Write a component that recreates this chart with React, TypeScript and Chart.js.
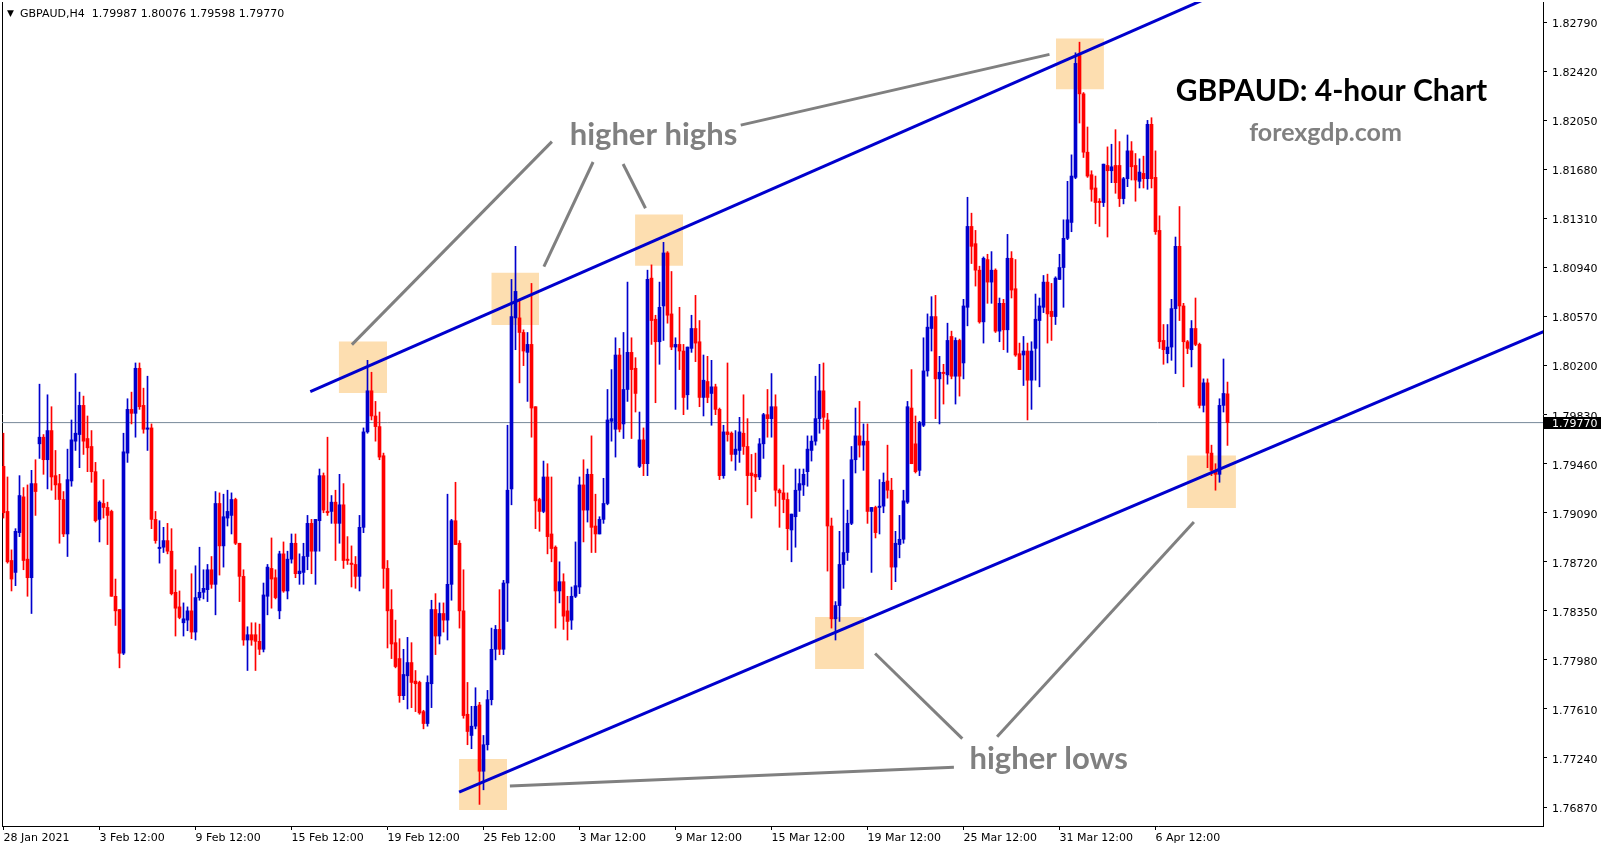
import React, { useEffect, useRef } from 'react';
import { Chart, registerables } from 'chart.js';

Chart.register(...registerables);

// ---------- data ----------
const symbol = 'GBPAUD';
const timeframe = 'H4';

// H4 candles: [open, high, low, close]
const candles: number[][] = [
  [1.7944,1.7969,1.7905,1.7909],[1.7910,1.7936,1.7871,1.7872],[1.7873,1.7881,1.7850,1.7859],[1.7864,1.7897,1.7854,1.7895],
  [1.7894,1.7937,1.7891,1.7922],[1.7921,1.7928,1.7866,1.7873],[1.7874,1.7930,1.7846,1.7860],[1.7860,1.7941,1.7833,1.7931],
  [1.7931,1.7949,1.7907,1.7925],[1.7961,1.8006,1.7950,1.7966],[1.7966,1.7968,1.7938,1.7949],[1.7949,1.7998,1.7927,1.7971],
  [1.7971,1.7989,1.7926,1.7936],[1.7937,1.7956,1.7919,1.7930],[1.7931,1.7938,1.7886,1.7919],[1.7919,1.7925,1.7891,1.7893],
  [1.7893,1.7957,1.7876,1.7934],[1.7933,1.7979,1.7929,1.7964],[1.7963,1.8014,1.7956,1.7969],[1.7968,1.8000,1.7943,1.7990],
  [1.7990,1.7997,1.7953,1.7963],[1.7965,1.7982,1.7940,1.7958],[1.7959,1.7971,1.7932,1.7940],[1.7940,1.7947,1.7902,1.7903],
  [1.7904,1.7918,1.7887,1.7917],[1.7916,1.7934,1.7905,1.7913],[1.7913,1.7917,1.7885,1.7907],[1.7910,1.7911,1.7846,1.7846],
  [1.7846,1.7859,1.7824,1.7835],[1.7836,1.7836,1.7792,1.7803],[1.7803,1.7969,1.7802,1.7955],[1.7954,1.7995,1.7947,1.7987],
  [1.7987,1.8000,1.7976,1.7984],[1.7984,1.8022,1.7966,1.8018],[1.8018,1.8022,1.7987,1.7989],[1.7990,1.8003,1.7969,1.7972],
  [1.7972,1.8012,1.7956,1.7973],[1.7973,1.7976,1.7897,1.7904],[1.7904,1.7910,1.7886,1.7888],[1.7882,1.7903,1.7871,1.7883],
  [1.7883,1.7898,1.7879,1.7888],[1.7888,1.7901,1.7878,1.7880],[1.7880,1.7897,1.7847,1.7848],[1.7849,1.7866,1.7816,1.7837],
  [1.7838,1.7850,1.7829,1.7830],[1.7826,1.7841,1.7816,1.7829],[1.7828,1.7838,1.7820,1.7835],[1.7835,1.7863,1.7814,1.7819],
  [1.7819,1.7869,1.7813,1.7845],[1.7845,1.7883,1.7843,1.7849],[1.7849,1.7866,1.7844,1.7852],[1.7851,1.7870,1.7842,1.7866],
  [1.7866,1.7876,1.7852,1.7855],[1.7855,1.7925,1.7832,1.7916],[1.7916,1.7924,1.7862,1.7884],[1.7884,1.7923,1.7868,1.7906],
  [1.7905,1.7926,1.7899,1.7910],[1.7907,1.7924,1.7893,1.7919],[1.7919,1.7920,1.7885,1.7886],[1.7886,1.7886,1.7842,1.7861],
  [1.7861,1.7866,1.7809,1.7813],[1.7813,1.7823,1.7790,1.7817],[1.7817,1.7826,1.7809,1.7813],[1.7817,1.7826,1.7790,1.7812],
  [1.7812,1.7825,1.7802,1.7806],[1.7806,1.7856,1.7804,1.7847],[1.7846,1.7870,1.7832,1.7868],[1.7867,1.7890,1.7837,1.7859],
  [1.7860,1.7866,1.7844,1.7845],[1.7835,1.7880,1.7829,1.7878],[1.7878,1.7887,1.7849,1.7850],[1.7850,1.7880,1.7844,1.7874],
  [1.7874,1.7893,1.7871,1.7886],[1.7886,1.7893,1.7860,1.7863],[1.7863,1.7878,1.7855,1.7865],[1.7864,1.7886,1.7855,1.7876],
  [1.7876,1.7907,1.7866,1.7901],[1.7901,1.7904,1.7863,1.7880],[1.7880,1.7904,1.7855,1.7904],[1.7903,1.7942,1.7880,1.7937],
  [1.7937,1.7939,1.7909,1.7911],[1.7910,1.7966,1.7907,1.7909],[1.7910,1.7922,1.7901,1.7917],[1.7917,1.7926,1.7873,1.7901],
  [1.7901,1.7938,1.7886,1.7915],[1.7915,1.7931,1.7867,1.7873],[1.7874,1.7891,1.7870,1.7873],[1.7871,1.7884,1.7853,1.7870],
  [1.7870,1.7876,1.7852,1.7861],[1.7861,1.7907,1.7850,1.7898],[1.7898,1.7973,1.7894,1.7970],[1.7970,1.8024,1.7969,1.8001],
  [1.8001,1.8015,1.7979,1.7982],[1.7982,1.7993,1.7963,1.7974],[1.7974,1.7985,1.7949,1.7951],[1.7952,1.7954,1.7852,1.7867],
  [1.7867,1.7873,1.7807,1.7835],[1.7836,1.7851,1.7799,1.7810],[1.7811,1.7828,1.7792,1.7793],[1.7799,1.7814,1.7766,1.7771],
  [1.7771,1.7806,1.7768,1.7787],[1.7786,1.7815,1.7761,1.7796],[1.7796,1.7811,1.7762,1.7781],[1.7782,1.7790,1.7759,1.7780],
  [1.7781,1.7782,1.7757,1.7758],[1.7759,1.7760,1.7746,1.7750],[1.7750,1.7786,1.7748,1.7781],[1.7780,1.7843,1.7762,1.7836],
  [1.7836,1.7848,1.7802,1.7816],[1.7816,1.7841,1.7810,1.7833],[1.7833,1.7841,1.7819,1.7828],[1.7828,1.7923,1.7813,1.7855],
  [1.7855,1.7904,1.7843,1.7903],[1.7903,1.7932,1.7885,1.7885],[1.7886,1.7888,1.7822,1.7835],[1.7835,1.7866,1.7754,1.7756],
  [1.7757,1.7781,1.7734,1.7744],[1.7741,1.7763,1.7731,1.7748],[1.7748,1.7777,1.7746,1.7763],[1.7764,1.7766,1.7689,1.7714],
  [1.7714,1.7741,1.7700,1.7734],[1.7734,1.7775,1.7730,1.7768],[1.7768,1.7822,1.7764,1.7806],[1.7806,1.7824,1.7798,1.7821],
  [1.7821,1.7851,1.7802,1.7806],[1.7806,1.7858,1.7802,1.7856],[1.7856,1.7975,1.7827,1.7926],[1.7927,1.8085,1.7915,1.8057],
  [1.8056,1.8110,1.8032,1.8076],[1.8056,1.8070,1.8007,1.8045],[1.8045,1.8047,1.8020,1.8031],[1.8030,1.8045,1.7993,1.8036],
  [1.8036,1.8082,1.7966,1.7988],[1.7989,1.7989,1.7897,1.7918],[1.7919,1.7920,1.7895,1.7910],[1.7910,1.7948,1.7909,1.7936],
  [1.7936,1.7946,1.7878,1.7891],[1.7893,1.7936,1.7872,1.7882],[1.7883,1.7884,1.7822,1.7850],[1.7850,1.7872,1.7841,1.7857],
  [1.7857,1.7863,1.7821,1.7831],[1.7835,1.7846,1.7813,1.7827],[1.7828,1.7853,1.7821,1.7846],[1.7846,1.7887,1.7845,1.7854],
  [1.7853,1.7936,1.7848,1.7930],[1.7930,1.7949,1.7887,1.7911],[1.7911,1.7942,1.7902,1.7938],[1.7938,1.7967,1.7879,1.7898],
  [1.7899,1.7923,1.7879,1.7893],[1.7893,1.7906,1.7893,1.7904],[1.7904,1.7935,1.7901,1.7916],[1.7916,1.8002,1.7915,1.7979],
  [1.7978,1.8017,1.7963,1.7980],[1.7972,1.8041,1.7951,1.8028],[1.8028,1.8033,1.7970,1.7972],[1.7976,1.8045,1.7965,1.8002],
  [1.8002,1.8083,1.7993,1.8030],[1.8030,1.8041,1.7965,1.8017],[1.8018,1.8026,1.7985,1.7999],[1.7944,1.7985,1.7943,1.7964],
  [1.7964,1.7973,1.7937,1.7946],[1.7946,1.8092,1.7937,1.8085],[1.8086,1.8096,1.8036,1.8054],[1.8055,1.8058,1.7992,1.8038],
  [1.8038,1.8083,1.8021,1.8064],[1.8065,1.8113,1.8039,1.8105],[1.8105,1.8106,1.8052,1.8058],[1.8059,1.8091,1.8032,1.8034],
  [1.8034,1.8041,1.7987,1.8036],[1.8036,1.8064,1.8017,1.8031],[1.8031,1.8036,1.7983,1.7996],[1.7998,1.8034,1.7987,1.8034],
  [1.8033,1.8058,1.8030,1.8048],[1.8048,1.8073,1.8023,1.8037],[1.8038,1.8054,1.7989,1.7996],[1.7996,1.8028,1.7982,1.8009],
  [1.8008,1.8027,1.7992,1.7996],[1.7999,1.8024,1.7975,1.8004],[1.8004,1.8006,1.7983,1.7987],[1.7987,1.7988,1.7934,1.7937],
  [1.7937,1.7975,1.7935,1.7970],[1.7970,1.8022,1.7963,1.7968],[1.7969,1.7970,1.7948,1.7953],[1.7953,1.7971,1.7941,1.7957],
  [1.7956,1.7981,1.7947,1.7970],[1.7969,1.7998,1.7953,1.7959],[1.7959,1.7980,1.7915,1.7937],[1.7939,1.7953,1.7905,1.7937],
  [1.7938,1.7954,1.7925,1.7936],[1.7936,1.7965,1.7934,1.7961],[1.7961,1.7984,1.7950,1.7983],[1.7983,1.8002,1.7966,1.7980],
  [1.7980,1.8014,1.7966,1.7989],[1.7989,1.7998,1.7914,1.7926],[1.7926,1.7927,1.7898,1.7924],[1.7924,1.7945,1.7909,1.7919],
  [1.7919,1.7924,1.7881,1.7897],[1.7896,1.7908,1.7872,1.7908],[1.7906,1.7942,1.7883,1.7926],[1.7926,1.7942,1.7910,1.7931],
  [1.7930,1.7942,1.7922,1.7938],[1.7940,1.7967,1.7929,1.7957],[1.7956,1.7967,1.7948,1.7963],[1.7963,1.8012,1.7960,1.7980],
  [1.7980,1.8021,1.7969,1.8001],[1.8001,1.8022,1.7972,1.7981],[1.7979,1.7984,1.7865,1.7899],[1.7899,1.7905,1.7822,1.7829],
  [1.7829,1.7842,1.7813,1.7839],[1.7839,1.7895,1.7827,1.7870],[1.7870,1.7934,1.7852,1.7879],[1.7879,1.7911,1.7873,1.7901],
  [1.7901,1.7959,1.7900,1.7949],[1.7949,1.7988,1.7939,1.7967],[1.7967,1.7993,1.7951,1.7960],[1.7960,1.7976,1.7941,1.7963],
  [1.7963,1.7976,1.7901,1.7910],[1.7910,1.7913,1.7864,1.7913],[1.7913,1.7914,1.7890,1.7894],[1.7913,1.7934,1.7893,1.7914],
  [1.7914,1.7939,1.7909,1.7932],[1.7933,1.7960,1.7920,1.7926],[1.7926,1.7935,1.7851,1.7868],[1.7868,1.7895,1.7857,1.7886],
  [1.7885,1.7907,1.7875,1.7889],[1.7889,1.7926,1.7886,1.7918],[1.7917,1.7993,1.7916,1.7989],[1.7988,1.8017,1.7946,1.7946],
  [1.7961,1.7982,1.7939,1.7940],[1.7941,1.7978,1.7937,1.7977],[1.7975,1.8041,1.7974,1.8016],[1.8016,1.8059,1.8012,1.8049],
  [1.8048,1.8072,1.8031,1.8057],[1.8057,1.8073,1.7980,1.8010],[1.8010,1.8027,1.7976,1.8015],[1.8015,1.8021,1.7991,1.8014],
  [1.8013,1.8052,1.8006,1.8039],[1.8042,1.8046,1.8010,1.8012],[1.8012,1.8041,1.7991,1.8039],[1.8039,1.8040,1.7997,1.8012],
  [1.8022,1.8070,1.8010,1.8065],[1.8064,1.8147,1.8050,1.8125],[1.8125,1.8135,1.8097,1.8110],[1.8112,1.8122,1.8080,1.8092],
  [1.8092,1.8095,1.8052,1.8053],[1.8053,1.8102,1.8037,1.8101],[1.8100,1.8104,1.8067,1.8083],[1.8083,1.8106,1.8067,1.8092],
  [1.8092,1.8093,1.8045,1.8046],[1.8046,1.8071,1.8038,1.8067],[1.8067,1.8070,1.8032,1.8047],[1.8047,1.8119,1.8030,1.8101],
  [1.8101,1.8106,1.8071,1.8077],[1.8078,1.8100,1.8027,1.8028],[1.8029,1.8037,1.8017,1.8017],[1.8028,1.8042,1.8005,1.8031],
  [1.8031,1.8037,1.7979,1.8009],[1.8009,1.8038,1.7987,1.8031],[1.8033,1.8074,1.8009,1.8055],[1.8054,1.8071,1.8004,1.8065],
  [1.8064,1.8088,1.8060,1.8083],[1.8083,1.8089,1.8037,1.8059],[1.8061,1.8082,1.8039,1.8057],[1.8057,1.8087,1.8051,1.8086],
  [1.8085,1.8104,1.8085,1.8094],[1.8094,1.8130,1.8064,1.8116],[1.8116,1.8159,1.8115,1.8130],[1.8128,1.8179,1.8121,1.8163],
  [1.8162,1.8256,1.8161,1.8248],[1.8254,1.8264,1.8203,1.8225],[1.8225,1.8226,1.8177,1.8181],[1.8181,1.8200,1.8162,1.8163],
  [1.8164,1.8167,1.8144,1.8153],[1.8154,1.8163,1.8127,1.8143],[1.8144,1.8146,1.8125,1.8143],[1.8143,1.8172,1.8140,1.8172],
  [1.8171,1.8185,1.8117,1.8167],[1.8167,1.8187,1.8158,1.8170],[1.8171,1.8198,1.8150,1.8158],[1.8171,1.8189,1.8140,1.8146],
  [1.8146,1.8162,1.8142,1.8161],[1.8161,1.8194,1.8155,1.8182],[1.8182,1.8189,1.8160,1.8170],[1.8171,1.8180,1.8144,1.8160],
  [1.8159,1.8176,1.8154,1.8166],[1.8165,1.8178,1.8154,1.8161],[1.8161,1.8205,1.8153,1.8202],[1.8202,1.8207,1.8154,1.8161],
  [1.8162,1.8182,1.8119,1.8121],[1.8122,1.8133,1.8033,1.8038],[1.8039,1.8051,1.8021,1.8032],[1.8029,1.8051,1.8022,1.8034],
  [1.8034,1.8070,1.8024,1.8063],[1.8063,1.8117,1.8014,1.8110],[1.8110,1.8140,1.8054,1.8065],[1.8065,1.8067,1.8004,1.8038],
  [1.8038,1.8039,1.8029,1.8033],[1.8032,1.8054,1.8019,1.8048],[1.8048,1.8071,1.8035,1.8036],[1.8036,1.8037,1.7988,1.7990],
  [1.7990,1.8010,1.7985,1.8007],[1.8007,1.8010,1.7943,1.7954],[1.7954,1.7960,1.7937,1.7941],[1.7941,1.7946,1.7926,1.7938],
  [1.7938,1.7995,1.7932,1.7990],[1.7990,1.8025,1.7985,1.7999],[1.79987,1.80076,1.79598,1.79770],
];

// time axis labels (every 24 bars)
const timeLabels = ['28 Jan 2021','3 Feb 12:00','9 Feb 12:00','15 Feb 12:00','19 Feb 12:00','25 Feb 12:00','3 Mar 12:00','9 Mar 12:00','15 Mar 12:00','19 Mar 12:00','25 Mar 12:00','31 Mar 12:00','6 Apr 12:00'];
const timeLabelBars = [0,24,48,72,96,120,144,168,192,216,240,264,288];

// price axis ticks
const priceTicks = [1.8279,1.8242,1.8205,1.8168,1.8131,1.8094,1.8057,1.8020,1.7983,1.7946,1.7909,1.7872,1.7835,1.7798,1.7761,1.7724,1.7687];

// trend lines: [barIndex, price] endpoints
const upperTrend = [[76.7, 1.80003],[300.0, 1.82960]];
const lowerTrend = [[113.9, 1.76982],[385.0, 1.80457]];

// highlighted zones: [barFrom, barTo, priceLow, priceHigh]
const zones = [
  [83.8, 95.9, 1.79994, 1.80381],
  [121.95, 133.9, 1.80507, 1.80901],
  [157.9, 169.9, 1.80954, 1.81340],
  [263.1, 275.1, 1.82284, 1.82668],
  [113.9, 125.9, 1.76848, 1.77233],
  [202.9, 215.1, 1.77912, 1.78304],
  [295.9, 308.1, 1.79126, 1.79522],
];

// pointer lines: [bar1, price1, bar2, price2]
const pointers = [
  [137.1, 1.81890, 87.1, 1.80358],
  [147.4, 1.81736, 135.1, 1.80946],
  [154.9, 1.81721, 160.5, 1.81387],
  [184.3, 1.82014, 261.5, 1.82548],
  [217.9, 1.78028, 239.7, 1.77386],
  [248.4, 1.77401, 297.6, 1.79021],
  [126.6, 1.77029, 237.6, 1.77170],
];

// text notes: [text, bar, price]
const notes: [string, number, number][] = [
  ['higher highs', 162.5, 1.81940],
  ['higher lows', 261.3, 1.77233],
];
const titleNote: [string, number, number] = ['GBPAUD: 4-hour Chart', 332.0, 1.82272];
const siteNote: [string, number, number] = ['forexgdp.com', 330.5, 1.81955];

// ---------- view constants ----------
const X_MIN = -0.375;
const X_MAX = 384.875;
const Y_MIN = 1.76727;
const Y_MAX = 1.82943;
const BULL = '#0000cd';
const BEAR = '#ff0000';
const AXIS_FONT = { family: 'DejaVu Sans', size: 11 };

export default function App() {
  const ref = useRef<HTMLCanvasElement>(null);

  useEffect(() => {
    document.body.style.margin = '0';
    const canvas = ref.current!;
    const last = candles[candles.length - 1];
    const colors = candles.map((c) => (c[3] >= c[0] ? BULL : BEAR));

    const datasets: any[] = [];

    zones.forEach((z, i) => {
      datasets.push({
        type: 'line',
        label: 'zone' + i,
        data: [{ x: z[0], y: z[3] }, { x: z[1], y: z[3] }],
        borderWidth: 0,
        pointRadius: 0,
        backgroundColor: '#fddeb0',
        fill: { value: z[2] },
        clip: 0,
        order: 20,
        yAxisID: 'y',
      });
    });

    datasets.push({
      type: 'line',
      label: 'price',
      data: [{ x: X_MIN, y: last[3] }, { x: X_MAX, y: last[3] }],
      borderColor: '#778899',
      borderWidth: 1,
      pointRadius: 0,
      fill: false,
      clip: 0,
      order: 15,
      yAxisID: 'y',
    });

    datasets.push({
      type: 'bar',
      label: 'wick',
      data: candles.map((c, i) => ({ x: i, y: [c[2], c[1]] })),
      backgroundColor: colors,
      barThickness: 1,
      grouped: false,
      minBarLength: 1,
      borderWidth: 0,
      order: 11,
      yAxisID: 'y',
    });
    datasets.push({
      type: 'bar',
      label: 'body',
      data: candles.map((c, i) => ({ x: i, y: [c[0], c[3]] })),
      backgroundColor: colors,
      barThickness: 3,
      grouped: false,
      minBarLength: 1,
      borderWidth: 0,
      order: 10,
      yAxisID: 'y',
    });

    [upperTrend, lowerTrend].forEach((t, i) => {
      datasets.push({
        type: 'line',
        label: 'trend' + i,
        data: t.map((p) => ({ x: p[0], y: p[1] })),
        borderColor: BULL,
        borderWidth: 3,
        pointRadius: 0,
        fill: false,
        clip: 0,
        order: 5,
        yAxisID: 'y',
      });
    });

    pointers.forEach((p, i) => {
      datasets.push({
        type: 'line',
        label: 'ptr' + i,
        data: [{ x: p[0], y: p[1] }, { x: p[2], y: p[3] }],
        borderColor: '#808080',
        borderWidth: 3,
        pointRadius: 0,
        fill: false,
        clip: 0,
        order: 4,
        yAxisID: 'y',
      });
    });

    const notesPlugin = {
      id: 'notes',
      afterDatasetsDraw(chart: any) {
        const { ctx, scales } = chart;
        const x = scales.x;
        const y = scales.y;
        ctx.save();
        ctx.textAlign = 'center';
        ctx.textBaseline = 'middle';
        ctx.fillStyle = '#808080';
        ctx.font = 'bold 31px Lato';
        notes.forEach((n) => ctx.fillText(n[0], x.getPixelForValue(n[1]), y.getPixelForValue(n[2])));
        ctx.fillStyle = '#000';
        ctx.font = 'bold 30px Lato';
        ctx.fillText(titleNote[0], x.getPixelForValue(titleNote[1]), y.getPixelForValue(titleNote[2]));
        ctx.fillStyle = '#808080';
        ctx.font = 'bold 25px Lato';
        ctx.fillText(siteNote[0], x.getPixelForValue(siteNote[1]), y.getPixelForValue(siteNote[2]));
        ctx.restore();
      },
      afterDraw(chart: any) {
        const { ctx, chartArea, scales } = chart;
        const y = scales.y;
        ctx.save();
        // header
        ctx.fillStyle = '#000';
        ctx.textBaseline = 'middle';
        ctx.textAlign = 'left';
        ctx.font = '9px "DejaVu Sans"';
        ctx.fillText('\u25BC', chartArea.left + 5, 14);
        ctx.font = '11px "DejaVu Sans"';
        const head = `${symbol},${timeframe}  ${last[0].toFixed(5)} ${last[1].toFixed(5)} ${last[2].toFixed(5)} ${last[3].toFixed(5)}`;
        ctx.fillText(head, chartArea.left + 18, 14);
        // current price tag
        const py = Math.round(y.getPixelForValue(last[3]));
        ctx.fillStyle = '#000';
        ctx.fillRect(chartArea.right + 1, py - 6, 57, 12);
        ctx.fillStyle = '#fff';
        ctx.font = '11px "DejaVu Sans"';
        ctx.fillText(last[3].toFixed(5), chartArea.right + 9, py + 1);
        ctx.restore();
      },
    };

    const chart = new Chart(canvas, {
      type: 'bar',
      data: { datasets },
      plugins: [notesPlugin],
      options: {
        animation: false,
        responsive: false,
        events: [],
        layout: { autoPadding: false, padding: { left: 0, right: 0, top: 2, bottom: 0 } },
        plugins: { legend: { display: false }, tooltip: { enabled: false } },
        scales: {
          x: {
            type: 'linear',
            position: 'bottom',
            min: X_MIN,
            max: X_MAX,
            offset: false,
            afterBuildTicks: (s: any) => {
              s.ticks = timeLabelBars.map((v) => ({ value: v }));
            },
            afterFit: (s: any) => {
              s.height = 24;
              s.paddingLeft = 0;
              s.paddingRight = 0;
            },
            ticks: {
              autoSkip: false,
              maxRotation: 0,
              minRotation: 0,
              align: 'start',
              padding: 2,
              color: '#000',
              font: AXIS_FONT,
              callback: (_v: any, i: number) => timeLabels[i],
            },
            grid: { display: true, drawOnChartArea: false, drawTicks: true, tickLength: 4, color: '#000', offset: false },
            border: { display: true, color: '#000', width: 1 },
          },
          y: {
            type: 'linear',
            position: 'right',
            min: Y_MIN,
            max: Y_MAX,
            afterBuildTicks: (s: any) => {
              s.ticks = priceTicks.map((v) => ({ value: v }));
            },
            afterFit: (s: any) => {
              s.width = 64;
              s.paddingTop = 0;
              s.paddingBottom = 0;
            },
            ticks: {
              color: '#000',
              font: AXIS_FONT,
              padding: 5,
              labelOffset: 2,
              callback: (v: any) => Number(v).toFixed(5),
            },
            grid: { display: true, drawOnChartArea: false, drawTicks: true, tickLength: 4, color: '#000' },
            border: { display: true, color: '#000', width: 1 },
          },
          yLeft: {
            type: 'linear',
            position: 'left',
            min: Y_MIN,
            max: Y_MAX,
            ticks: { display: false },
            grid: { display: false, drawTicks: false },
            border: { display: true, color: '#000', width: 1 },
            afterFit: (s: any) => {
              s.width = 2;
              s.paddingTop = 0;
              s.paddingBottom = 0;
            },
          },
        },
      } as any,
    });
    return () => chart.destroy();
  }, []);

  return (
    <div style={{ position: 'fixed', left: 0, top: 0, width: 1607, height: 850, background: '#fff' }}>
      <canvas ref={ref} width={1607} height={850} style={{ display: 'block', width: 1607, height: 850 }} />
    </div>
  );
}
